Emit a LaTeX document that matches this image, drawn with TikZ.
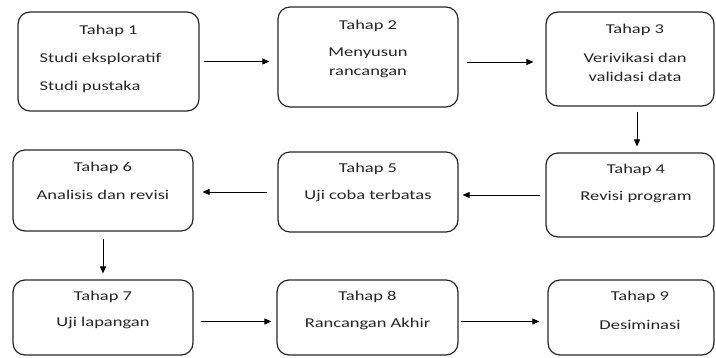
\documentclass[tikz,border=0pt]{standalone}
\usepackage{fontspec}
\setmainfont{Carlito}[FakeStretch=1.37]
\usetikzlibrary{positioning,arrows.meta}

\tikzset{
  tahap/.style={draw=black!85,line width=1.2pt,rounded corners=12pt,inner sep=0pt},
  judul/.style={font=\fontsize{13.5}{19}\selectfont,text=black!85,inner sep=0pt},
  isi/.style={judul,align=center},
  panah/.style={-{Triangle[length=7pt,width=6pt]},line width=0.9pt,shorten <=5pt,shorten >=6pt}
}

\begin{document}
\begin{tikzpicture}[x=1pt,y=-1pt]
\useasboundingbox (0,0) rectangle (716,357);

% kotak tahap
\node[tahap,minimum width=181pt,minimum height=99pt] (b1) at (108.5,61.5) {};
\node[tahap,minimum width=180pt,minimum height=100pt] (b2) at (368,57) {};
\node[tahap,minimum width=168pt,minimum height=94pt] (b3) at (630,59) {};
\node[tahap,minimum width=168pt,minimum height=84pt] (b4) at (630,195) {};
\node[tahap,minimum width=180pt,minimum height=80pt] (b5) at (368,192) {};
\node[tahap,minimum width=180pt,minimum height=81pt] (b6) at (103,190.5) {};
\node[tahap,minimum width=180pt,minimum height=75pt] (b7) at (103,317.5) {};
\node[tahap,minimum width=181pt,minimum height=75pt] (b8) at (367.5,317.5) {};
\node[tahap,minimum width=166pt,minimum height=75pt] (b9) at (631,317.5) {};

% teks
\node[judul] (t1) at ([yshift=-19pt]b1.north) {Tahap 1};
\node[isi,align=left] (i1) at ([xshift=-8pt,yshift=-42pt]t1) {Studi eksploratif\\[9pt]Studi pustaka};
\node[judul] (t2) at ([yshift=-19pt]b2.north) {Tahap 2};
\node[isi] (i2) at ([yshift=-37.5pt]t2) {Menyusun\\rancangan};
\node[judul] (t3) at ([xshift=5pt,yshift=-18pt]b3.north) {Tahap 3};
\node[isi] (i3) at ([yshift=-37.5pt]t3) {Verivikasi dan\\validasi data};
\node[judul] (t4) at ([xshift=6pt,yshift=-17pt]b4.north) {Tahap 4};
\node[isi] (i4) at ([yshift=-28pt]t4) {Revisi program};
\node[judul] (t5) at ([yshift=-17pt]b5.north) {Tahap 5};
\node[isi] (i5) at ([yshift=-28pt]t5) {Uji coba terbatas};
\node[judul] (t6) at ([yshift=-18pt]b6.north) {Tahap 6};
\node[isi] (i6) at ([yshift=-27pt]t6) {Analisis dan revisi};
\node[judul] (t7) at ([yshift=-17pt]b7.north) {Tahap 7};
\node[isi] (i7) at ([yshift=-27pt]t7) {Uji lapangan};
\node[judul] (t8) at ([yshift=-17pt]b8.north) {Tahap 8};
\node[isi] (i8) at ([yshift=-28pt]t8) {Rancangan Akhir};
\node[judul] (t9) at ([xshift=9pt,yshift=-17pt]b9.north) {Tahap 9};
\node[isi] (i9) at ([yshift=-28pt]t9) {Desiminasi};

% panah
\draw[panah,shorten <=4pt,shorten >=8pt] (b1.east) -- (b1.east -| b2.west);
\draw[panah,shorten <=8pt,shorten >=12pt] ([yshift=-5pt]b2.east) -- ([yshift=-3pt]b3.west);
\draw[panah] ([xshift=7pt]b3.south) -- ([xshift=7pt]b4.north);
\draw[panah,shorten >=4pt] (b4.west) -- (b4.west -| b5.east);
\draw[panah,shorten <=10pt,shorten >=9pt] (b5.west) -- (b5.west -| b6.east);
\draw[panah,shorten <=7pt] (b6.south) -- (b6.south |- b7.north);
\draw[panah,shorten <=7pt,shorten >=5pt] ([yshift=-4pt]b7.east) -- ([yshift=-4pt]b8.west);
\draw[panah,shorten <=2pt,shorten >=8pt] ([yshift=-4pt]b8.east) -- ([yshift=-4pt]b9.west);
\end{tikzpicture}
\end{document}
